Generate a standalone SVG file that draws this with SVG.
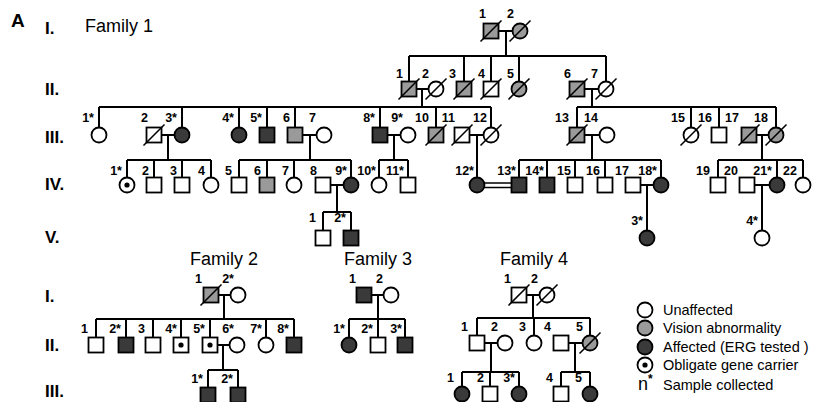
<svg xmlns="http://www.w3.org/2000/svg" xmlns:xlink="http://www.w3.org/1999/xlink" width="829" height="402" viewBox="0 0 829 402">
<style>
.sym{stroke:#000;stroke-width:1.8}
.w{fill:#fff}.g{fill:#9a9a9a}.d{fill:#3a3a3a}
.sl{stroke:#000;stroke-width:1.6}
.dt{fill:#000;stroke:none}
#connectors path{stroke:#000;stroke-width:2;fill:none}
#connectors path.dbl{stroke-width:1.6}
text{font-family:'Liberation Sans',Arial,sans-serif;fill:#000}
.lab{font-weight:bold;font-size:12.5px;text-anchor:end}
.gen{font-weight:bold;font-size:17px}
.ttl{font-size:18px}
.leg{font-size:14.5px}
</style>
<defs>
<rect id="sq" x="-7.5" y="-7.5" width="15" height="15"/>
<circle id="ci" r="7.5"/>
<line id="sl" x1="-10.5" y1="10.5" x2="10.5" y2="-10.5"/>
<circle id="dt" r="2.6"/>
</defs>
<rect width="829" height="402" fill="#fff"/>

<g id="headings">
<text x="11" y="27" style="font-weight:bold;font-size:19px">A</text>
<text x="45" y="34" class="gen">I.</text>
<text x="85" y="32" class="ttl">Family 1</text>
<text x="45" y="95" class="gen">II.</text>
<text x="45" y="143" class="gen">III.</text>
<text x="45" y="190" class="gen">IV.</text>
<text x="45" y="243" class="gen">V.</text>
<text x="224" y="265" class="ttl" text-anchor="middle">Family 2</text>
<text x="378" y="265" class="ttl" text-anchor="middle">Family 3</text>
<text x="534" y="265" class="ttl" text-anchor="middle">Family 4</text>
<text x="45" y="302" class="gen">I.</text>
<text x="45" y="351" class="gen">II.</text>
<text x="45" y="397" class="gen">III.</text>
</g>

<g id="connectors">
<path d="M497.5,31H512.5M506,31V56M409,56H606M409,56V81.5M464,56V81.5M491,56V81.5M519,56V81.5M606,56V81.5"/>
<path d="M416.5,89H428.5M422,89V107M99,107H491M99,107V127.5M182,107V127.5M239,107V127.5M267,107V127.5M295,107V127.5M380,107V127.5M436,107V127.5M491,107V127.5"/>
<path d="M584.5,89H598.5M592,89V107M577,107H776M577,107V127.5M691,107V127.5M719,107V127.5M776,107V127.5"/>
<path d="M161.5,135H174.5M168,135V160M127,160H211M127,160V177.5M154,160V177.5M182,160V177.5M211,160V177.5"/>
<path d="M302.5,135H316.5M310,135V160M239,160H351M239,160V177.5M267,160V177.5M294,160V177.5M351,160V177.5"/>
<path d="M387.5,135H400.5M394,135V160M379,160H408M379,160V177.5M408,160V177.5"/>
<path d="M469.5,135H483.5M477,135V177.5"/>
<path d="M584.5,135H599.5M592,135V160M519,160H661M519,160V177.5M547,160V177.5M575,160V177.5M605,160V177.5M661,160V177.5"/>
<path d="M756.5,135H768.5M762,135V160M718,160H803M718,160V177.5M777,160V177.5M803,160V177.5"/>
<path d="M330.5,185H343.5M337,185V212M323,212H351M323,212V230.5M351,212V230.5"/>
<path class="dbl" d="M484.5,183H511.5M484.5,187.5H511.5"/>
<path d="M640.5,185H653.5M647,185V230.5"/>
<path d="M754.5,185H769.5M762,185V230.5"/>
<path d="M218.5,295H230.5M224,295V319M96,319H294M96,319V337.5M126,319V337.5M153,319V337.5M181,319V337.5M210,319V337.5M266,319V337.5M294,319V337.5"/>
<path d="M217.5,345H229.5M223,345V370M208,370H238M208,370V387.5M238,370V387.5"/>
<path d="M371.5,295H383.5M378,295V319M349,319H405M349,319V337.5M378,319V337.5M405,319V337.5"/>
<path d="M526.5,295H539.5M533,295V318M477,318H590M477,318V335.5M534,318V335.5M590,318V335.5"/>
<path d="M484.5,343H497.5M491,343V372M462,372H519M462,372V386.5M490,372V386.5M519,372V386.5"/>
<path d="M568.5,343H582.5M575,343V372M561,372H590M561,372V386.5M590,372V386.5"/>
</g>

<!-- Family 1 Generation I -->
<g id="f1-I-1"><use href="#sq" x="491" y="31" class="sym g"/><use href="#sl" x="491" y="31" class="sl"/><text x="486" y="18" class="lab">1</text></g>
<g id="f1-I-2"><use href="#ci" x="520" y="31" class="sym g"/><use href="#sl" x="520" y="31" class="sl"/><text x="514" y="18" class="lab">2</text></g>
<!-- Generation II -->
<g id="f1-II-1"><use href="#sq" x="409" y="89" class="sym g"/><use href="#sl" x="409" y="89" class="sl"/><text x="403" y="78" class="lab">1</text></g>
<g id="f1-II-2"><use href="#ci" x="436" y="89" class="sym w"/><use href="#sl" x="436" y="89" class="sl"/><text x="429" y="78" class="lab">2</text></g>
<g id="f1-II-3"><use href="#sq" x="464" y="89" class="sym g"/><use href="#sl" x="464" y="89" class="sl"/><text x="456" y="78" class="lab">3</text></g>
<g id="f1-II-4"><use href="#sq" x="491" y="89" class="sym w"/><use href="#sl" x="491" y="89" class="sl"/><text x="485" y="78" class="lab">4</text></g>
<g id="f1-II-5"><use href="#ci" x="519" y="89" class="sym g"/><use href="#sl" x="519" y="89" class="sl"/><text x="514" y="78" class="lab">5</text></g>
<g id="f1-II-6"><use href="#sq" x="577" y="89" class="sym g"/><use href="#sl" x="577" y="89" class="sl"/><text x="571" y="78" class="lab">6</text></g>
<g id="f1-II-7"><use href="#ci" x="606" y="89" class="sym w"/><use href="#sl" x="606" y="89" class="sl"/><text x="598" y="78" class="lab">7</text></g>
<!-- Generation III -->
<g id="f1-III-1"><use href="#ci" x="99" y="135" class="sym w"/><text x="94" y="122" class="lab">1*</text></g>
<g id="f1-III-2"><use href="#sq" x="154" y="135" class="sym w"/><use href="#sl" x="154" y="135" class="sl"/><text x="148" y="122" class="lab">2</text></g>
<g id="f1-III-3"><use href="#ci" x="182" y="135" class="sym d"/><text x="177" y="122" class="lab">3*</text></g>
<g id="f1-III-4"><use href="#ci" x="239" y="135" class="sym d"/><text x="234" y="122" class="lab">4*</text></g>
<g id="f1-III-5"><use href="#sq" x="267" y="135" class="sym d"/><text x="262" y="122" class="lab">5*</text></g>
<g id="f1-III-6"><use href="#sq" x="295" y="135" class="sym g"/><text x="290" y="122" class="lab">6</text></g>
<g id="f1-III-7"><use href="#ci" x="324" y="135" class="sym w"/><text x="316" y="122" class="lab">7</text></g>
<g id="f1-III-8"><use href="#sq" x="380" y="135" class="sym d"/><text x="375" y="122" class="lab">8*</text></g>
<g id="f1-III-9"><use href="#ci" x="408" y="135" class="sym w"/><text x="403" y="122" class="lab">9*</text></g>
<g id="f1-III-10"><use href="#sq" x="436" y="135" class="sym g"/><use href="#sl" x="436" y="135" class="sl"/><text x="429" y="122" class="lab">10</text></g>
<g id="f1-III-11"><use href="#sq" x="462" y="135" class="sym w"/><use href="#sl" x="462" y="135" class="sl"/><text x="455" y="122" class="lab">11</text></g>
<g id="f1-III-12"><use href="#ci" x="491" y="135" class="sym w"/><use href="#sl" x="491" y="135" class="sl"/><text x="487" y="122" class="lab">12</text></g>
<g id="f1-III-13"><use href="#sq" x="577" y="135" class="sym g"/><use href="#sl" x="577" y="135" class="sl"/><text x="569" y="122" class="lab">13</text></g>
<g id="f1-III-14"><use href="#ci" x="607" y="135" class="sym w"/><text x="598" y="122" class="lab">14</text></g>
<g id="f1-III-15"><use href="#ci" x="691" y="135" class="sym w"/><use href="#sl" x="691" y="135" class="sl"/><text x="685" y="122" class="lab">15</text></g>
<g id="f1-III-16"><use href="#sq" x="719" y="135" class="sym w"/><text x="712" y="122" class="lab">16</text></g>
<g id="f1-III-17"><use href="#sq" x="749" y="135" class="sym g"/><use href="#sl" x="749" y="135" class="sl"/><text x="739" y="122" class="lab">17</text></g>
<g id="f1-III-18"><use href="#ci" x="776" y="135" class="sym g"/><use href="#sl" x="776" y="135" class="sl"/><text x="768" y="122" class="lab">18</text></g>
<!-- Generation IV -->
<g id="f1-IV-1"><use href="#ci" x="127" y="185" class="sym w"/><use href="#dt" x="127" y="185" class="dt"/><text x="122" y="175" class="lab">1*</text></g>
<g id="f1-IV-2"><use href="#sq" x="154" y="185" class="sym w"/><text x="149" y="175" class="lab">2</text></g>
<g id="f1-IV-3"><use href="#sq" x="182" y="185" class="sym w"/><text x="177" y="175" class="lab">3</text></g>
<g id="f1-IV-4"><use href="#ci" x="211" y="185" class="sym w"/><text x="205" y="175" class="lab">4</text></g>
<g id="f1-IV-5"><use href="#sq" x="239" y="185" class="sym w"/><text x="232" y="175" class="lab">5</text></g>
<g id="f1-IV-6"><use href="#sq" x="267" y="185" class="sym g"/><text x="261" y="175" class="lab">6</text></g>
<g id="f1-IV-7"><use href="#ci" x="294" y="185" class="sym w"/><text x="289" y="175" class="lab">7</text></g>
<g id="f1-IV-8"><use href="#sq" x="323" y="185" class="sym w"/><text x="317" y="175" class="lab">8</text></g>
<g id="f1-IV-9"><use href="#ci" x="351" y="185" class="sym d"/><text x="347" y="175" class="lab">9*</text></g>
<g id="f1-IV-10"><use href="#ci" x="379" y="185" class="sym w"/><text x="376" y="175" class="lab">10*</text></g>
<g id="f1-IV-11"><use href="#sq" x="408" y="185" class="sym w"/><text x="404" y="175" class="lab">11*</text></g>
<g id="f1-IV-12"><use href="#ci" x="477" y="185" class="sym d"/><text x="474" y="175" class="lab">12*</text></g>
<g id="f1-IV-13"><use href="#sq" x="519" y="185" class="sym d"/><text x="516" y="175" class="lab">13*</text></g>
<g id="f1-IV-14"><use href="#sq" x="547" y="185" class="sym d"/><text x="544" y="175" class="lab">14*</text></g>
<g id="f1-IV-15"><use href="#sq" x="575" y="185" class="sym w"/><text x="571" y="175" class="lab">15</text></g>
<g id="f1-IV-16"><use href="#sq" x="605" y="185" class="sym w"/><text x="600" y="175" class="lab">16</text></g>
<g id="f1-IV-17"><use href="#sq" x="633" y="185" class="sym w"/><text x="629" y="175" class="lab">17</text></g>
<g id="f1-IV-18"><use href="#ci" x="661" y="185" class="sym d"/><text x="657" y="175" class="lab">18*</text></g>
<g id="f1-IV-19"><use href="#sq" x="718" y="185" class="sym w"/><text x="710" y="175" class="lab">19</text></g>
<g id="f1-IV-20"><use href="#sq" x="747" y="185" class="sym w"/><text x="738" y="175" class="lab">20</text></g>
<g id="f1-IV-21"><use href="#ci" x="777" y="185" class="sym d"/><text x="772" y="175" class="lab">21*</text></g>
<g id="f1-IV-22"><use href="#ci" x="803" y="185" class="sym w"/><text x="797" y="175" class="lab">22</text></g>
<!-- Generation V -->
<g id="f1-V-1"><use href="#sq" x="323" y="238" class="sym w"/><text x="316" y="222" class="lab">1</text></g>
<g id="f1-V-2"><use href="#sq" x="351" y="238" class="sym d"/><text x="346" y="222" class="lab">2*</text></g>
<g id="f1-V-3"><use href="#ci" x="647" y="238" class="sym d"/><text x="643" y="225" class="lab">3*</text></g>
<g id="f1-V-4"><use href="#ci" x="762" y="238" class="sym w"/><text x="758" y="225" class="lab">4*</text></g>

<!-- Family 2 -->
<g id="f2-I-1"><use href="#sq" x="211" y="295" class="sym g"/><use href="#sl" x="211" y="295" class="sl"/><text x="202" y="283" class="lab">1</text></g>
<g id="f2-I-2"><use href="#ci" x="238" y="295" class="sym w"/><text x="234" y="283" class="lab">2*</text></g>
<g id="f2-II-1"><use href="#sq" x="96" y="345" class="sym w"/><text x="88" y="333" class="lab">1</text></g>
<g id="f2-II-2"><use href="#sq" x="126" y="345" class="sym d"/><text x="121" y="333" class="lab">2*</text></g>
<g id="f2-II-3"><use href="#sq" x="153" y="345" class="sym w"/><text x="145" y="333" class="lab">3</text></g>
<g id="f2-II-4"><use href="#sq" x="181" y="345" class="sym w"/><use href="#dt" x="181" y="345" class="dt"/><text x="177" y="333" class="lab">4*</text></g>
<g id="f2-II-5"><use href="#sq" x="210" y="345" class="sym w"/><use href="#dt" x="210" y="345" class="dt"/><text x="205" y="333" class="lab">5*</text></g>
<g id="f2-II-6"><use href="#ci" x="237" y="345" class="sym w"/><text x="234" y="333" class="lab">6*</text></g>
<g id="f2-II-7"><use href="#ci" x="266" y="345" class="sym w"/><text x="262" y="333" class="lab">7*</text></g>
<g id="f2-II-8"><use href="#sq" x="294" y="345" class="sym d"/><text x="289" y="333" class="lab">8*</text></g>
<g id="f2-III-1"><use href="#sq" x="208" y="395" class="sym d"/><text x="203" y="383" class="lab">1*</text></g>
<g id="f2-III-2"><use href="#sq" x="238" y="395" class="sym d"/><text x="233" y="383" class="lab">2*</text></g>

<!-- Family 3 -->
<g id="f3-I-1"><use href="#sq" x="364" y="295" class="sym d"/><text x="356" y="283" class="lab">1</text></g>
<g id="f3-I-2"><use href="#ci" x="391" y="295" class="sym w"/><text x="383" y="283" class="lab">2</text></g>
<g id="f3-II-1"><use href="#ci" x="349" y="345" class="sym d"/><text x="345" y="333" class="lab">1*</text></g>
<g id="f3-II-2"><use href="#sq" x="378" y="345" class="sym w"/><text x="373" y="333" class="lab">2*</text></g>
<g id="f3-II-3"><use href="#sq" x="405" y="345" class="sym d"/><text x="402" y="333" class="lab">3*</text></g>

<!-- Family 4 -->
<g id="f4-I-1"><use href="#sq" x="519" y="295" class="sym w"/><use href="#sl" x="519" y="295" class="sl"/><text x="511" y="283" class="lab">1</text></g>
<g id="f4-I-2"><use href="#ci" x="547" y="295" class="sym w"/><use href="#sl" x="547" y="295" class="sl"/><text x="538" y="283" class="lab">2</text></g>
<g id="f4-II-1"><use href="#sq" x="477" y="343" class="sym w"/><text x="468" y="331" class="lab">1</text></g>
<g id="f4-II-2"><use href="#ci" x="505" y="343" class="sym w"/><text x="498" y="331" class="lab">2</text></g>
<g id="f4-II-3"><use href="#ci" x="534" y="343" class="sym w"/><text x="526" y="331" class="lab">3</text></g>
<g id="f4-II-4"><use href="#sq" x="561" y="343" class="sym w"/><text x="551" y="331" class="lab">4</text></g>
<g id="f4-II-5"><use href="#ci" x="590" y="343" class="sym g"/><use href="#sl" x="590" y="343" class="sl"/><text x="583" y="331" class="lab">5</text></g>
<g id="f4-III-1"><use href="#ci" x="462" y="394" class="sym d"/><text x="454" y="382" class="lab">1</text></g>
<g id="f4-III-2"><use href="#sq" x="490" y="394" class="sym w"/><text x="484" y="382" class="lab">2</text></g>
<g id="f4-III-3"><use href="#ci" x="519" y="394" class="sym d"/><text x="515" y="382" class="lab">3*</text></g>
<g id="f4-III-4"><use href="#sq" x="561" y="394" class="sym w"/><text x="553" y="382" class="lab">4</text></g>
<g id="f4-III-5"><use href="#ci" x="590" y="394" class="sym d"/><text x="582" y="382" class="lab">5</text></g>

<!-- Legend -->
<g id="legend">
<use href="#ci" x="645" y="310" class="sym w"/><text x="663" y="315" class="leg">Unaffected</text>
<use href="#ci" x="645" y="328" class="sym g"/><text x="663" y="333" class="leg">Vision abnormality</text>
<use href="#ci" x="645" y="347" class="sym d"/><text x="663" y="352" class="leg">Affected (ERG tested )</text>
<use href="#ci" x="645" y="365" class="sym w"/><use href="#dt" x="645" y="365" class="dt"/><text x="663" y="370" class="leg">Obligate gene carrier</text>
<text x="638" y="390" style="font-size:18px">n<tspan dy="-7" style="font-size:12px;font-weight:bold">*</tspan></text><text x="663" y="390" class="leg">Sample collected</text>
</g>
</svg>
